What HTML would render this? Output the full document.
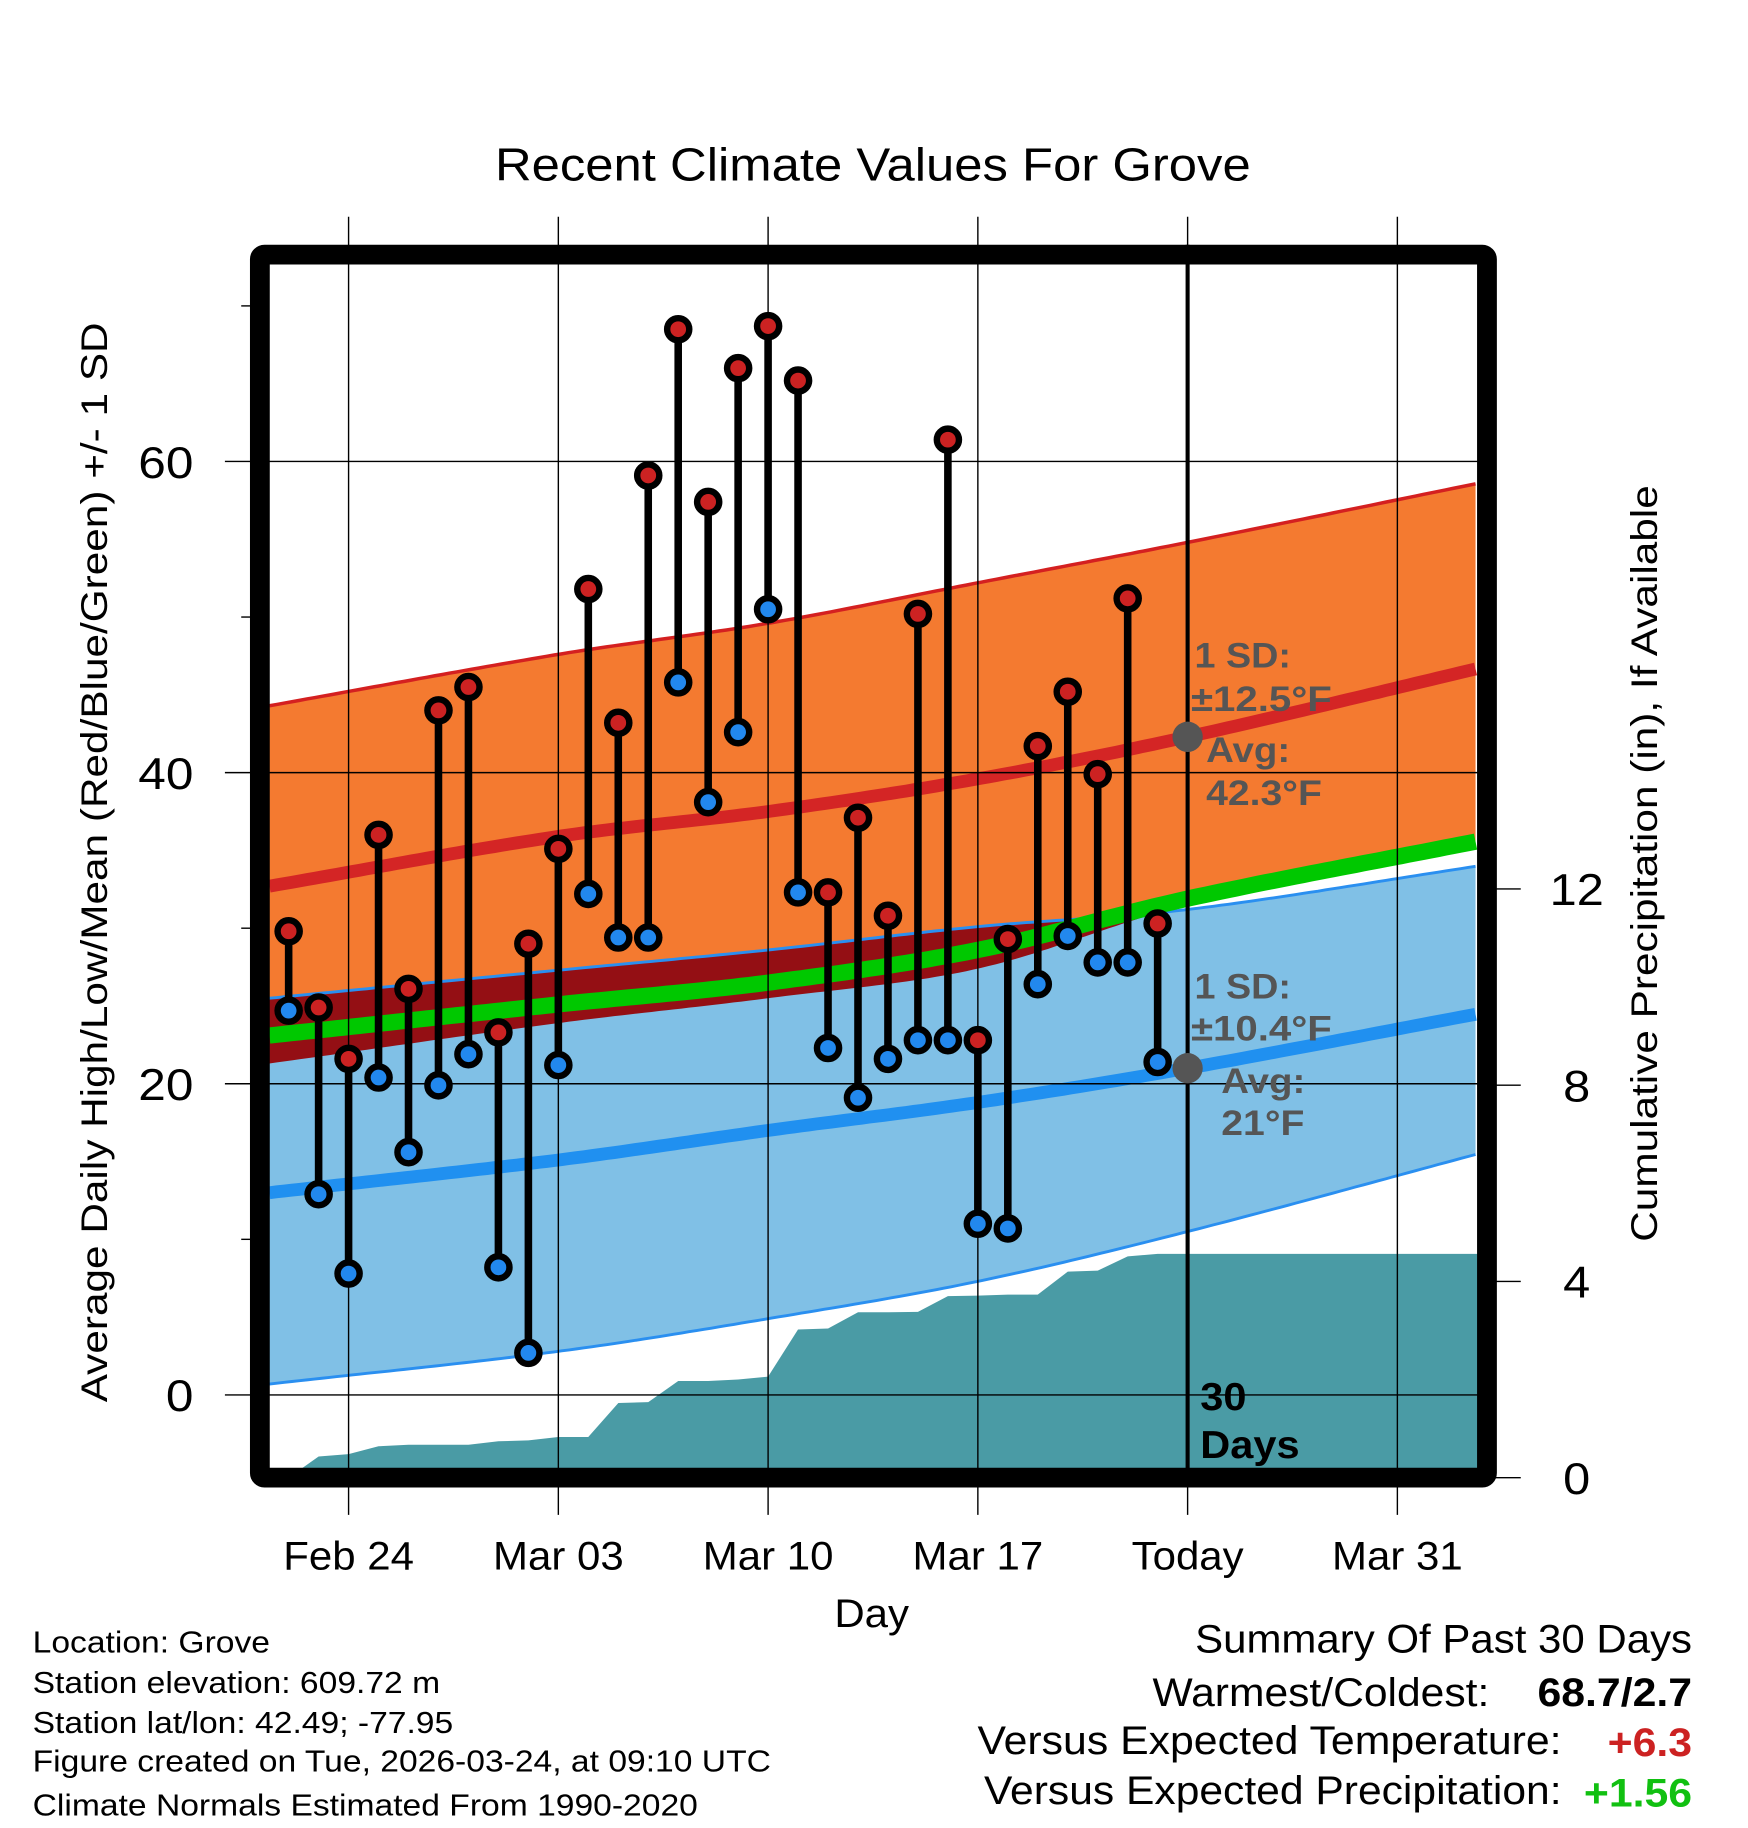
<!DOCTYPE html>
<html><head><meta charset="utf-8"><style>
html,body{margin:0;padding:0;background:#fff}
svg{display:block}
text{font-family:"Liberation Sans",sans-serif}
</style></head><body>
<svg id="chart" width="1748" height="1828" viewBox="0 0 1500 1568.65" xmlns="http://www.w3.org/2000/svg">
<defs><clipPath id="plotclip"><rect x="231" y="231" width="1037" height="1029"/></clipPath></defs>
<g id="fills" clip-path="url(#plotclip)"></g>
<g id="grid"></g>
<g id="marks"></g>
<g id="frame"></g>
<g id="labels"></g>
</svg>
<script>
// ---- data ----
const days = ["Feb22","Feb23","Feb24","Feb25","Feb26","Feb27","Feb28","Mar01","Mar02","Mar03","Mar04","Mar05","Mar06","Mar07","Mar08","Mar09","Mar10","Mar11","Mar12","Mar13","Mar14","Mar15","Mar16","Mar17","Mar18","Mar19","Mar20","Mar21","Mar22","Mar23"];
const highs = [29.8,24.9,21.6,36.0,26.1,44.0,45.5,23.3,29.0,35.1,51.8,43.2,59.1,68.5,57.4,66.0,68.7,65.2,32.3,37.1,30.8,50.2,61.4,22.8,29.3,41.7,45.2,39.9,51.2,30.3];
const lows = [24.7,12.9,7.8,20.4,15.6,19.9,21.9,8.2,2.7,21.2,32.2,29.4,29.4,45.8,38.1,42.6,50.5,32.3,22.3,19.1,21.6,22.8,22.8,11.0,10.7,26.4,29.5,27.8,27.8,21.4];
const precip = [0.0,0.43,0.48,0.64,0.67,0.67,0.67,0.74,0.76,0.83,0.83,1.52,1.54,1.97,1.97,2.0,2.06,3.02,3.04,3.37,3.37,3.38,3.7,3.71,3.73,3.73,4.2,4.22,4.51,4.56];
// normals sampled at day offsets from Feb22 (0 = Feb22)
const normDays = [-0.64,9,16,23,30,39.7];
const normHigh = [32.7,35.9,37.5,39.6,42.3,46.7];
const normHighTop = [44.3,47.6,49.6,52.2,54.8,58.6];
const normHighBot = [21.3,23.9,25.5,27.4,31.5,35.1];
const normLow = [13.0,15.1,17.0,18.8,21.0,24.5];
const normLowTop = [25.5,27.3,28.6,30.1,31.2,34.0];
const normLowBot = [0.7,2.8,4.9,7.3,10.5,15.5];
const normMean = [23.1,25.1,26.5,28.6,31.9,35.6];
const yTicks = [0,20,40,60];
const yMinor = [10,30,50,70];
const pTicks = [0,4,8,12];
const xTickDays = [2,9,16,23,30,37];
const xTickLabels = ["Feb 24","Mar 03","Mar 10","Mar 17","Today","Mar 31"];

// ---- axes ----
const X = d => 247.7 + d*25.714;
const Y = t => 1197 - t*13.35;
const P = p => 1268 - p*42.1;
const NS = "http://www.w3.org/2000/svg";
function mk(parent, tag, attrs){const e=document.createElementNS(NS,tag);for(const k in attrs)e.setAttribute(k,attrs[k]);document.getElementById(parent).appendChild(e);return e;}
function interp(arr,d){
 const n=normDays.length;
 let i=0; while(i<n-2 && d>normDays[i+1]) i++;
 const x0=normDays[i],x1=normDays[i+1],h=x1-x0,t=(d-x0)/h;
 const slope=k=>{ if(k===0) return (arr[1]-arr[0])/(normDays[1]-normDays[0]);
   if(k===n-1) return (arr[n-1]-arr[n-2])/(normDays[n-1]-normDays[n-2]);
   return (arr[k+1]-arr[k-1])/(normDays[k+1]-normDays[k-1]); };
 const m0=slope(i)*h,m1=slope(i+1)*h,t2=t*t,t3=t2*t;
 return (2*t3-3*t2+1)*arr[i]+(t3-2*t2+t)*m0+(-2*t3+3*t2)*arr[i+1]+(t3-t2)*m1;
}
function curve(arr){const pts=[];for(let d=normDays[0];d<=normDays[normDays.length-1]+0.01;d+=0.25){pts.push([X(d),Y(interp(arr,d))]);}return pts;}
function band(top,bot){const a=curve(top),b=curve(bot).reverse();return "M"+a.concat(b).map(p=>p[0].toFixed(1)+","+p[1].toFixed(1)).join("L")+"Z";}
function line(arr){return "M"+curve(arr).map(p=>p[0].toFixed(1)+","+p[1].toFixed(1)).join("L");}

let e;
e=mk("fills","path",{d:band(normHighTop,normHighBot),fill:"#f47a30"});


e=mk("fills","path",{d:line(normHighTop),fill:"none",stroke:"#d42020","stroke-width":3});


e=mk("fills","path",{d:band(normLowTop,normLowBot),fill:"#80c0e6"});


(function(){const a=[],b=[];for(let d=normDays[0];d<=normDays[normDays.length-1]+0.01;d+=0.25){const lt=interp(normLowTop,d),hb=interp(normHighBot,d);if(hb<lt){a.push([X(d),Y(lt)]);b.push([X(d),Y(hb)]);}}
if(a.length){const pts=a.concat(b.reverse());e=mk("fills","path",{d:"M"+pts.map(p=>p[0].toFixed(1)+","+p[1].toFixed(1)).join("L")+"Z",fill:"#940f14"});

}})();
e=mk("fills","path",{d:line(normLowTop),fill:"none",stroke:"#2a8ff0","stroke-width":2.5});


e=mk("fills","path",{d:line(normLowBot),fill:"none",stroke:"#2a8ff0","stroke-width":2.5});


e=mk("fills","path",{d:line(normHigh),fill:"none",stroke:"#d42525","stroke-width":11});


e=mk("fills","path",{d:line(normLow),fill:"none",stroke:"#2090f0","stroke-width":11});


e=mk("fills","path",{d:line(normMean),fill:"none",stroke:"#00c800","stroke-width":14});


(function(){let d="M"+X(-0.7)+","+P(0);precip.forEach((p,i)=>{d+="L"+X(i).toFixed(1)+","+P(p).toFixed(1);});const last=precip[precip.length-1];d+="L1270,"+P(last).toFixed(1)+"L1270,1270L"+X(-0.7)+",1270Z";
e=mk("fills","path",{d:d,fill:"#4a9ba5"});

})();

function lbl(x,y,size,sx,anchor,txt){const el=mk("labels","text",{x:0,y:0,"font-size":size,"text-anchor":anchor,transform:"translate("+x+" "+y+") scale("+sx+" 1)"});el.textContent=txt;return el;}
xTickDays.forEach((d,i)=>{
 e=mk("grid","line",{x1:X(d),x2:X(d),y1:186,y2:1300,stroke:"#000","stroke-width":1.2});
 
 
 e=lbl(X(d),1347,34,1.06,"middle",xTickLabels[i]);
 
 
});
yTicks.forEach(t=>{
 e=mk("grid","line",{x1:193,x2:1268,y1:Y(t),y2:Y(t),stroke:"#000","stroke-width":1.2});
 
 
 e=lbl(166,Y(t)+14,38,1.12,"end",String(t));
 
 
});
yMinor.forEach(t=>{
 e=mk("grid","line",{x1:207,x2:216,y1:Y(t),y2:Y(t),stroke:"#000","stroke-width":1.2});
 
 
});
pTicks.forEach(p=>{
 e=mk("grid","line",{x1:1282,x2:1305,y1:P(p),y2:P(p),stroke:"#000","stroke-width":1.2});
 
 
 e=lbl(1353,P(p)+14,38,1.1,"middle",String(p));
 
 
});
e=mk("grid","line",{x1:X(30),x2:X(30),y1:210,y2:1262,stroke:"#000","stroke-width":3.5});



days.forEach((d,i)=>{
 e=mk("marks","line",{x1:X(i),x2:X(i),y1:Y(highs[i]),y2:Y(lows[i]),stroke:"#000","stroke-width":6.5});
 
 
});
days.forEach((d,i)=>{
 e=mk("marks","circle",{cx:X(i),cy:Y(highs[i]),r:9.5,fill:"#cc2222",stroke:"#000","stroke-width":5.5});
 
 
 e=mk("marks","circle",{cx:X(i),cy:Y(lows[i]),r:9.5,fill:"#2288ee",stroke:"#000","stroke-width":5.5});
 
 
});
e=mk("marks","circle",{cx:X(30),cy:Y(normHigh[4]),r:13,fill:"#555"});


e=mk("marks","circle",{cx:X(30),cy:Y(normLow[4]),r:13,fill:"#555"});


</script>
<script>
(function(){
const NS="http://www.w3.org/2000/svg";
function T(x,y,s,sx,txt,name,opts,rot){const e=document.createElementNS(NS,"text");e.setAttribute("x",0);e.setAttribute("y",0);e.setAttribute("font-size",s);
e.setAttribute("transform","translate("+x+" "+y+")"+(rot?" rotate(-90)":"")+" scale("+sx+" 1)");
for(const k in (opts||{}))e.setAttribute(k,opts[k]);e.textContent=txt;


document.getElementById("labels").appendChild(e);return e;}
const f=document.getElementById("frame");
const r=document.createElementNS(NS,"rect");
r.setAttribute("x",223);r.setAttribute("y",218.5);r.setAttribute("width",1053);r.setAttribute("height",1049.5);r.setAttribute("rx",4);
r.setAttribute("fill","none");r.setAttribute("stroke","#000");r.setAttribute("stroke-width",17);


f.appendChild(r);
const g={fill:"#555","font-weight":"bold"};
const M={"text-anchor":"middle"};
T(749,155,40,1.09,"Recent Climate Values For Grove","chart-title",M);
T(748,1396,34,1.06,"Day","x-axis-title",M);
T(92,740,32,1.135,"Average Daily High/Low/Mean (Red/Blue/Green) +/- 1 SD","y-axis-title",M,true);
T(1422,741,32,1.135,"Cumulative Precipitation (in), If Available","precip-axis-title",M,true);
T(1025,573,30,1.08,"1 SD:","high-sd-label",g);
T(1022,610,30,1.15,"±12.5°F","high-sd-value",g);
T(1035,654,30,1.1,"Avg:","high-avg-label",g);
T(1035,691,30,1.12,"42.3°F","high-avg-value",g);
T(1025,857,30,1.08,"1 SD:","low-sd-label",g);
T(1022,893,30,1.15,"±10.4°F","low-sd-value",g);
T(1048,938,30,1.1,"Avg:","low-avg-label",g);
T(1048,974,30,1.12,"21°F","low-avg-value",g);
T(1030,1210,33,1.08,"30","days-count-label",{"font-weight":"bold"});
T(1030,1251,33,1.08,"Days","days-label",{"font-weight":"bold"});
const info=["Location: Grove","Station elevation: 609.72 m","Station lat/lon: 42.49; -77.95","Figure created on Tue, 2026-03-24, at 09:10 UTC","Climate Normals Estimated From 1990-2020"];
const iy=[1418,1453,1487,1520,1558];
info.forEach((s,i)=>T(28,iy[i],26,1.11,s,"station-info-line"));
const E={"text-anchor":"end"};
T(1452,1418,34,1.06,"Summary Of Past 30 Days","summary-title",E);
T(1278,1464,34,1.075,"Warmest/Coldest:","warmest-coldest-label",E);
T(1452,1464,34,1.08,"68.7/2.7","warmest-coldest-value",{"text-anchor":"end","font-weight":"bold"});
T(1340,1505,34,1.08,"Versus Expected Temperature:","temp-anomaly-label",E);
T(1452,1507,34,1.08,"+6.3","temp-anomaly-value",{"text-anchor":"end","font-weight":"bold",fill:"#cc2222"});
T(1340,1548,34,1.075,"Versus Expected Precipitation:","precip-anomaly-label",E);
T(1452,1550,34,1.08,"+1.56","precip-anomaly-value",{"text-anchor":"end","font-weight":"bold",fill:"#11c011"});
})();
</script>
</body></html>
